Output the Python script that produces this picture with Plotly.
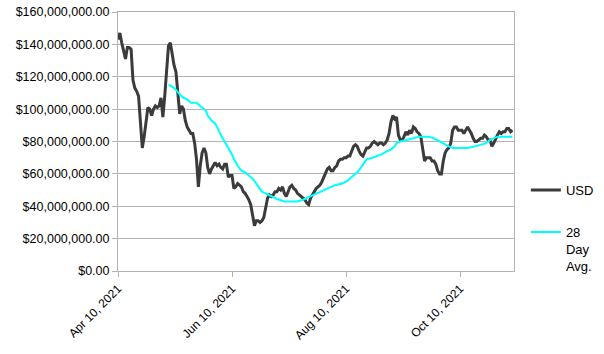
import pandas as pd
import plotly.graph_objects as go

start_date = "2021-04-10"

# Daily USD values (millions), one per day from Apr 10, 2021
usd_millions = [
    143, 147, 141, 135, 131, 138, 138, 137, 118, 113,
    111, 108, 92, 76, 83, 94, 101, 100, 96, 100,
    102, 101, 102, 107, 95, 108, 122, 139, 141, 133,
    127, 123, 108, 97, 102, 100, 93, 89, 87, 85,
    85, 79, 69, 52, 65, 73, 76, 73, 64, 60,
    63, 65, 67, 65, 66, 64, 63, 66, 66, 58,
    59, 59, 51, 52, 54, 53, 52, 49, 48, 46,
    44, 41, 34, 28, 31, 31, 30, 31, 33, 38,
    45, 47, 46, 47, 49, 49, 51, 50, 52, 48,
    46, 49, 52, 53, 51, 50, 48, 47, 46, 45,
    44, 42, 41, 45, 47, 49, 51, 52, 53, 55,
    58, 60, 63, 64, 62, 62, 64, 65, 68, 69,
    69, 70, 70, 71, 71, 74, 77, 78, 77, 74,
    72, 71, 74, 76, 76, 77, 79, 80, 79, 78,
    79, 79, 78, 79, 81, 85, 92, 96, 94, 95,
    84, 81, 81, 83, 86, 84, 87, 85, 89, 88,
    86, 85, 83, 75, 68, 70, 70, 70, 68, 68,
    66, 62, 60, 60, 68, 73, 75, 76, 79, 87,
    89, 89, 87, 87, 87, 85, 87, 89, 87, 85,
    82, 80, 80, 81, 82, 82, 84, 83, 81, 81,
    77, 79, 82, 84, 86, 85, 86, 86, 88, 88,
    86, 87,
]

# 28 Day Avg.: day offsets from start and values (millions)
avg_days = [27, 29, 31, 33, 35, 37, 39, 42, 45, 47, 48, 50, 52, 53, 55, 57, 59,
            61, 62, 64, 66, 68, 70, 72, 74, 76, 77, 79, 81, 83, 85, 89, 93, 96,
            99, 101, 105, 109, 112, 116, 120, 123, 125, 128, 130, 132, 133, 136,
            139, 141, 144, 146, 148, 149, 151, 155, 158, 161, 164, 166, 169, 172,
            174, 177, 179, 182, 187, 191, 194, 197, 199, 203, 205, 211]
avg_millions = [115, 114, 112, 109, 107, 106, 104, 104, 101, 99, 96, 93, 91, 89,
                84, 80, 76, 72, 69, 65, 62, 61, 59, 57, 54, 51, 49, 48, 47, 46,
                44.5, 43, 43, 43, 44, 45, 47, 49, 51, 53, 54, 56, 58, 61, 64, 67,
                69, 70, 71, 72, 74, 75, 77, 79, 80, 81, 82, 83, 83, 83, 82, 80,
                79, 77, 76, 76, 76, 77, 78, 79, 81, 83, 83, 83]

tick_dates = ["2021-04-10", "2021-06-10", "2021-08-10", "2021-10-10"]
tick_labels = ["Apr 10, 2021", "Jun 10, 2021", "Aug 10, 2021", "Oct 10, 2021"]

t0 = pd.Timestamp(start_date)
usd_dates = [t0 + pd.Timedelta(days=i) for i in range(len(usd_millions))]
avg_dates = [t0 + pd.Timedelta(days=d) for d in avg_days]

fig = go.Figure()
fig.add_trace(go.Scatter(
    x=usd_dates, y=[v * 1e6 for v in usd_millions], mode="lines",
    name="USD", legendgroup="a",
    line=dict(color="#3b3b3b", width=3),
))
fig.add_trace(go.Scatter(
    x=avg_dates, y=[v * 1e6 for v in avg_millions], mode="lines",
    name="28<br>Day<br>Avg.", legendgroup="b",
    line=dict(color="#00ffff", width=2),
))

grid = "#b3b3b3"
fig.update_layout(
    width=604, height=354,
    margin=dict(l=118, r=90, t=12, b=83, autoexpand=False),
    paper_bgcolor="white", plot_bgcolor="white",
    font=dict(family="Liberation Sans, Arial, sans-serif", size=12, color="#000000"),
    showlegend=True,
    legend=dict(x=1.03, xanchor="left", y=0.37, yanchor="top",
                valign="top", tracegroupgap=22,
                font=dict(size=13), itemwidth=30,
                bgcolor="rgba(0,0,0,0)"),
    xaxis=dict(
        type="date",
        range=["2021-04-10", "2021-11-07 20:00"],
        tickvals=tick_dates, ticktext=tick_labels, tickangle=-45,
        showgrid=False, showline=True, linecolor=grid, linewidth=1,
        mirror=True, ticks="outside", ticklen=5, tickcolor=grid,
        tickfont=dict(size=12), automargin=False,
    ),
    yaxis=dict(
        range=[0, 160e6], dtick=20e6, tickformat="$,.2f",
        showgrid=True, gridcolor=grid, gridwidth=1,
        showline=True, linecolor=grid, linewidth=1, mirror=True,
        ticks="outside", ticklen=5, tickcolor=grid,
        zeroline=False, tickfont=dict(size=12.5), automargin=False,
    ),
)

fig.write_html("out.html")
